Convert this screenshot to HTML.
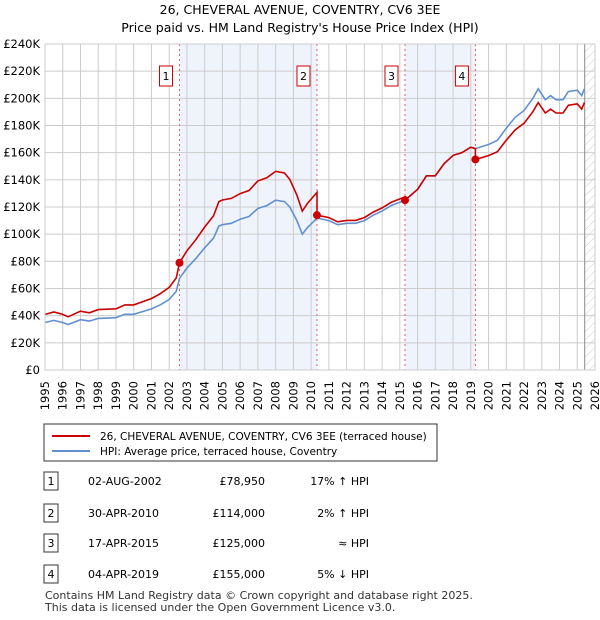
<!DOCTYPE html>
<html><head><meta charset="utf-8"><style>
body{margin:0;background:#fff;font-family:"Liberation Sans","DejaVu Sans",sans-serif;}
svg{display:block}
</style></head><body>
<svg width="600" height="620" xmlns="http://www.w3.org/2000/svg" font-family="DejaVu Sans, Liberation Sans, sans-serif">
<defs><pattern id="hatch" width="6" height="6" patternUnits="userSpaceOnUse" patternTransform="rotate(45)"><line x1="0" y1="0" x2="0" y2="6" stroke="#ccc" stroke-width="1"/></pattern></defs>
<text x="300" y="14" text-anchor="middle" font-size="12.5">26, CHEVERAL AVENUE, COVENTRY, CV6 3EE</text>
<text x="300" y="32" text-anchor="middle" font-size="12.5">Price paid vs. HM Land Registry's House Price Index (HPI)</text>
<g id="plot"></g>
<rect x="44" y="424" width="393" height="37" fill="#fff" stroke="#333" stroke-width="1"/>
<line x1="52" y1="436" x2="90" y2="436" stroke="#cc0000" stroke-width="2"/>
<text x="100" y="440" font-size="10.5">26, CHEVERAL AVENUE, COVENTRY, CV6 3EE (terraced house)</text>
<line x1="52" y1="451" x2="90" y2="451" stroke="#6090d0" stroke-width="2"/>
<text x="100" y="455" font-size="10.5">HPI: Average price, terraced house, Coventry</text>
<g id="table" font-size="11"></g>
<text x="45" y="599" font-size="11" fill="#333">Contains HM Land Registry data © Crown copyright and database right 2025.</text>
<text x="45" y="611" font-size="11" fill="#333">This data is licensed under the Open Government Licence v3.0.</text>
</svg>
<script>
const years=[1995,1996,1997,1998,1999,2000,2001,2002,2003,2004,2005,2006,2007,2008,2009,2010,2011,2012,2013,2014,2015,2016,2017,2018,2019,2020,2021,2022,2023,2024,2025,2026];
const yTicks=[0,20,40,60,80,100,120,140,160,180,200,220,240];
const hpiDates=[1995,1995.5,1996,1996.3,1997,1997.5,1998,1999,1999.5,2000,2000.5,2001,2001.5,2002,2002.4,2002.58,2003,2003.5,2004,2004.5,2004.8,2005,2005.5,2006,2006.5,2007,2007.5,2008,2008.5,2008.8,2009.2,2009.5,2009.8,2010.33,2011,2011.5,2012,2012.5,2013,2013.5,2014,2014.5,2015.29,2016,2016.5,2017,2017.5,2018,2018.5,2019,2019.26,2020,2020.5,2021,2021.5,2022,2022.5,2022.8,2023.2,2023.5,2023.8,2024.2,2024.5,2025,2025.25,2025.4];
const hpiValues=[35,36.5,35,33.5,37,36,38,38.5,41,41,43,45,48,52,58,67.5,75,82,90,97,106,107,108,111,113,119,121,125,124,120,110,100,105,111.8,110,107,108,108,110,114,117,121,125,133,143,143,152,158,160,164,163,166,169,178,186,191,200,207,199,202,199,199,205,206,202,207];
const saleDates=[2002.58,2010.33,2015.29,2019.26];
const salePrices=[78.95,114,125,155];
const saleLabels=["1","2","3","4"];
const tDates=["02-AUG-2002","30-APR-2010","17-APR-2015","04-APR-2019"];
const tPrices=["£78,950","£114,000","£125,000","£155,000"];
const tHpi=["17% ↑ HPI","2% ↑ HPI","≈ HPI","5% ↓ HPI"];

const NS="http://www.w3.org/2000/svg";
const X0=45,X1=595,Y0=370,Y1=44,xMin=1995,xMax=2026,todayX=2025.42;
const xs=v=>X0+(v-xMin)/(xMax-xMin)*(X1-X0);
const ys=v=>Y0-v/240*(Y0-Y1);
const plot=document.getElementById('plot');
function mk(t,a,p){const e=document.createElementNS(NS,t);for(const k in a)e.setAttribute(k,a[k]);(p||plot).appendChild(e);return e;}
function hpiAt(d){for(let i=0;i<hpiDates.length-1;i++){if(d<=hpiDates[i+1]){const f=(d-hpiDates[i])/(hpiDates[i+1]-hpiDates[i]);return hpiValues[i]+f*(hpiValues[i+1]-hpiValues[i]);}}return hpiValues[hpiValues.length-1];}
for(let i=0;i<saleDates.length;i+=2){const r=mk('rect',{x:xs(saleDates[i]),y:Y1,width:xs(saleDates[i+1])-xs(saleDates[i]),height:Y0-Y1,fill:'#eef3fc'});

}
const h=mk('rect',{x:xs(todayX),y:Y1,width:X1-xs(todayX),height:Y0-Y1,fill:'url(#hatch)'});


years.forEach(y=>{const l=mk('line',{x1:xs(y),x2:xs(y),y1:Y1,y2:Y0,stroke:'#ccc'});


const tx=xs(y)+4,ty=381;
const t=mk('text',{x:tx,y:ty,'text-anchor':'end','font-size':11.5,transform:'rotate(-90 '+tx+' '+ty+')'});t.textContent=y;

});
yTicks.forEach(v=>{const l=mk('line',{x1:X0,x2:X1,y1:ys(v),y2:ys(v),stroke:'#ccc'});


const t=mk('text',{x:X0-5,y:ys(v)+4,'text-anchor':'end','font-size':11.5});t.textContent=v==0?'£0':'£'+v+'K';

});
const lx=mk('line',{x1:xs(todayX),x2:xs(todayX),y1:Y1,y2:Y0,stroke:'#888'});


saleDates.forEach((d,i)=>{const l=mk('line',{x1:xs(d),x2:xs(d),y1:Y1,y2:Y0,stroke:'#e06060','stroke-dasharray':'2,3'});


const r=mk('rect',{x:xs(d)-20,y:66,width:13,height:20,fill:'#fff',stroke:'#cc0000'});


const t=mk('text',{x:xs(d)-13.5,y:80,'text-anchor':'middle','font-size':11});t.textContent=saleLabels[i];

});
let pb='';hpiDates.forEach((d,i)=>{pb+=(i?'L':'M')+xs(d).toFixed(1)+','+ys(hpiValues[i]).toFixed(1);});
const bl=mk('path',{d:pb,fill:'none',stroke:'#6090d0','stroke-width':1.6});


const fac=saleDates.map((d,i)=>salePrices[i]/hpiAt(d));
function facAt(d){let k=0;for(let i=0;i<saleDates.length;i++)if(d>=saleDates[i])k=i;return fac[k];}
let pr='';hpiDates.forEach((d,i)=>{const f=facAt(d);
saleDates.forEach((s,j)=>{if(j>0&&Math.abs(s-d)<1e-6)pr+='L'+xs(d).toFixed(1)+','+ys(hpiValues[i]*fac[j-1]).toFixed(1);});
pr+=(i?'L':'M')+xs(d).toFixed(1)+','+ys(hpiValues[i]*f).toFixed(1);});
const rl=mk('path',{d:pr,fill:'none',stroke:'#cc0000','stroke-width':1.6});


saleDates.forEach((d,i)=>{const c=mk('circle',{cx:xs(d),cy:ys(salePrices[i]),r:4,fill:'#cc0000'});

});
mk('rect',{x:X0,y:Y1,width:X1-X0,height:Y0-Y1,fill:'none',stroke:'#ccc'});
const tb=document.getElementById('table');const rowsY=[482,514,544,575];
rowsY.forEach((y,i)=>{const r=mk('rect',{x:44,y:y-10,width:14,height:18,fill:'#fff',stroke:'#333'},tb);


const t0=mk('text',{x:51,y:y+3,'text-anchor':'middle'},tb);t0.textContent=saleLabels[i];


const t1=mk('text',{x:88,y:y+3},tb);t1.textContent=tDates[i];


const t2=mk('text',{x:265,y:y+3,'text-anchor':'end'},tb);t2.textContent=tPrices[i];


const t3=mk('text',{x:369,y:y+3,'text-anchor':'end'},tb);t3.textContent=tHpi[i];

});
</script>
</body></html>
